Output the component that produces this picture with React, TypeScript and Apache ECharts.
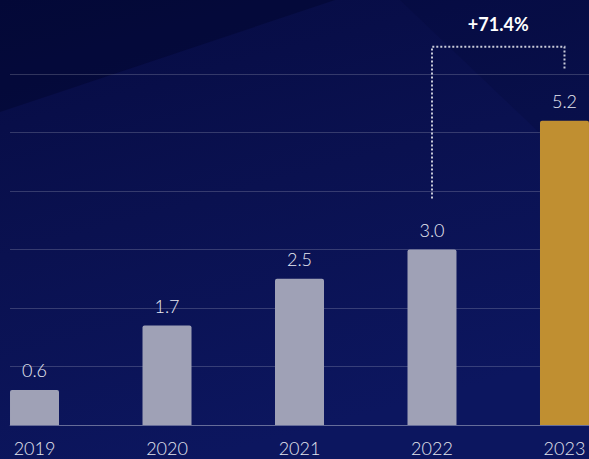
import React, { useEffect, useRef } from "react";
import * as echarts from "echarts";

const categories = ["2019", "2020", "2021", "2022", "2023"];
const values = [0.6, 1.7, 2.5, 3.0, 5.2];
const barColors = ["#9fa1b6", "#9fa1b6", "#9fa1b6", "#9fa1b6", "#c08f31"];
const yTicks = [0, 1, 2, 3, 4, 5, 6];
const growthFrom = 3; // index of 2022
const growthTo = 4; // index of 2023
const growthLabel = "+71.4%";

export default function App() {
  const ref = useRef<HTMLDivElement>(null);
  useEffect(() => {
    if (!ref.current) return;
    const chart = echarts.init(ref.current, undefined, { renderer: "svg" });
    const font = "Lato, 'Open Sans', sans-serif";
    const option: any = {
      animation: false,
      backgroundColor: {
        type: "linear",
        x: 0,
        y: 0,
        x2: 0.35,
        y2: 1,
        colorStops: [
          { offset: 0, color: "#060b42" },
          { offset: 0.5, color: "#0a1150" },
          { offset: 1, color: "#0c165f" },
        ],
      },
      graphic: [
        {
          type: "polygon",
          silent: true,
          z: -10,
          shape: { points: [[0, 0], [335, 0], [0, 112]] },
          style: { fill: "rgba(1,4,40,0.4)" },
        },
        {
          type: "polygon",
          silent: true,
          z: -10,
          shape: { points: [[400, 0], [589, 0], [589, 180]] },
          style: { fill: "rgba(1,4,40,0.15)" },
        },
      ],
      grid: { left: 10, right: 0, top: 74, bottom: 34, containLabel: false },
      xAxis: {
        type: "value",
        min: -0.185,
        max: 4.185,
        splitLine: { show: false },
        axisTick: { show: false },
        axisLine: { show: true, onZero: false, lineStyle: { color: "rgba(255,255,255,0.24)", width: 1 } },
        axisLabel: {
          customValues: categories.map((_, i) => i),
          formatter: (v: number) => categories[Math.round(v)] ?? "",
          color: "#e2e4ee",
          fontFamily: font,
          fontWeight: 300,
          fontSize: 18,
          margin: 14,
          showMinLabel: true,
          showMaxLabel: true,
        },
      },
      yAxis: {
        type: "value",
        min: yTicks[0],
        max: yTicks[yTicks.length - 1],
        interval: 1,
        axisLabel: { show: false },
        axisLine: { show: false },
        axisTick: { show: false },
        splitLine: { show: true, lineStyle: { color: "rgba(255,255,255,0.18)", width: 1 } },
      },
      series: [
        {
          type: "bar",
          barWidth: 49,
          data: values.map((v, i) => ({
            value: [i, v],
            itemStyle: { color: barColors[i], borderRadius: [2, 2, 0, 0] },
          })),
          label: {
            show: true,
            position: "top",
            distance: 11,
            color: "#e8eaf3",
            fontFamily: font,
            fontWeight: 300,
            fontSize: 18,
            formatter: (p: any) => Number(p.value[1]).toFixed(1),
          },
        },
        {
          type: "custom",
          clip: false,
          silent: true,
          data: [[growthFrom, values[growthFrom], growthTo, values[growthTo]]],
          encode: { x: [0, 2], y: [1, 3] },
          renderItem: (params: any, api: any) => {
            const p1 = api.coord([api.value(0), api.value(1)]);
            const p2 = api.coord([api.value(2), api.value(3)]);
            const top = Math.min(p1[1], p2[1]) - 74;
            return {
              type: "group",
              children: [
                {
                  type: "polyline",
                  shape: {
                    points: [
                      [p1[0], p1[1] - 51],
                      [p1[0], top],
                      [p2[0], top],
                      [p2[0], p2[1] - 52],
                    ],
                  },
                  style: { stroke: "#c9cbd9", lineWidth: 2, lineDash: [2, 2], fill: null },
                },
                {
                  type: "text",
                  x: (p1[0] + p2[0]) / 2,
                  y: top - 23,
                  style: {
                    text: growthLabel,
                    fill: "#ffffff",
                    font: `bold 18px ${font}`,
                    textAlign: "center",
                    textVerticalAlign: "middle",
                  },
                },
              ],
            };
          },
        },
      ],
    };
    chart.setOption(option);
    return () => chart.dispose();
  }, []);
  return (
    <div
      ref={ref}
      style={{ position: "fixed", left: 0, top: 0, width: 589, height: 459 }}
    />
  );
}
